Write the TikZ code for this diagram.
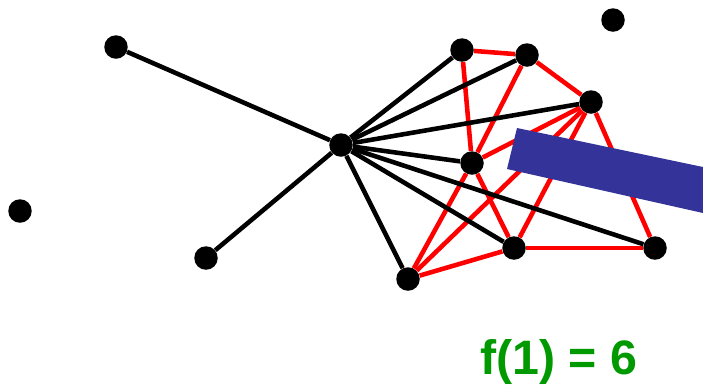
\documentclass[tikz,border=0pt]{standalone}
\usepackage{fontspec}
\setsansfont{Liberation Sans}
\usetikzlibrary{positioning}
\definecolor{edgered}{HTML}{FF0000}
\definecolor{barblue}{HTML}{333399}
\definecolor{labelgreen}{HTML}{009900}

\begin{document}
\begin{tikzpicture}[
      x=0.02cm, y=-0.02cm,
      vertex/.style={circle, fill=black, inner sep=0pt, minimum size=0.47cm},
      edge/.style={draw=black, line width=2.6pt},
      redge/.style={draw=edgered, line width=2.6pt},
      lbl/.style={text=labelgreen, font=\sffamily\bfseries\fontsize{27.5}{30}\selectfont},
    ]
    \useasboundingbox (0,0) rectangle (703,387);
    \node[vertex] (a) at (116, 47) {};
    \node[vertex] (b) at (20, 211) {};
    \node[vertex] (c) at (206, 258) {};
    \node[vertex] (hub) at (341, 145) {};
    \node[vertex] (n1) at (462, 50) {};
    \node[vertex] (n2) at (527, 55) {};
    \node[vertex] (n3) at (591, 102) {};
    \node[vertex] (n4) at (472, 163) {};
    \node[vertex] (n5) at (514, 248) {};
    \node[vertex] (n6) at (655, 248) {};
    \node[vertex] (n7) at (408, 279) {};
    \node[vertex] (lone) at (613, 20) {};

    % red clique
    \foreach \s/\t in {n1/n2, n1/n4, n2/n4, n2/n3, n3/n4, n3/n7, n3/n5, n3/n6,
                       n4/n5, n4/n7, n5/n7, n5/n6}
      \draw[redge] (\s) -- (\t);

    % black spokes
    \foreach \t in {a, c, n1, n2, n3, n4, n5, n6, n7}
      \draw[edge] (hub) -- (\t);

    \fill[barblue] (517,128) -- (703,167) -- (703,213) -- (507,169) -- cycle;

    \node[lbl] (f) at (559, 362) {f(1) = 6};
  \end{tikzpicture}
\end{document}
